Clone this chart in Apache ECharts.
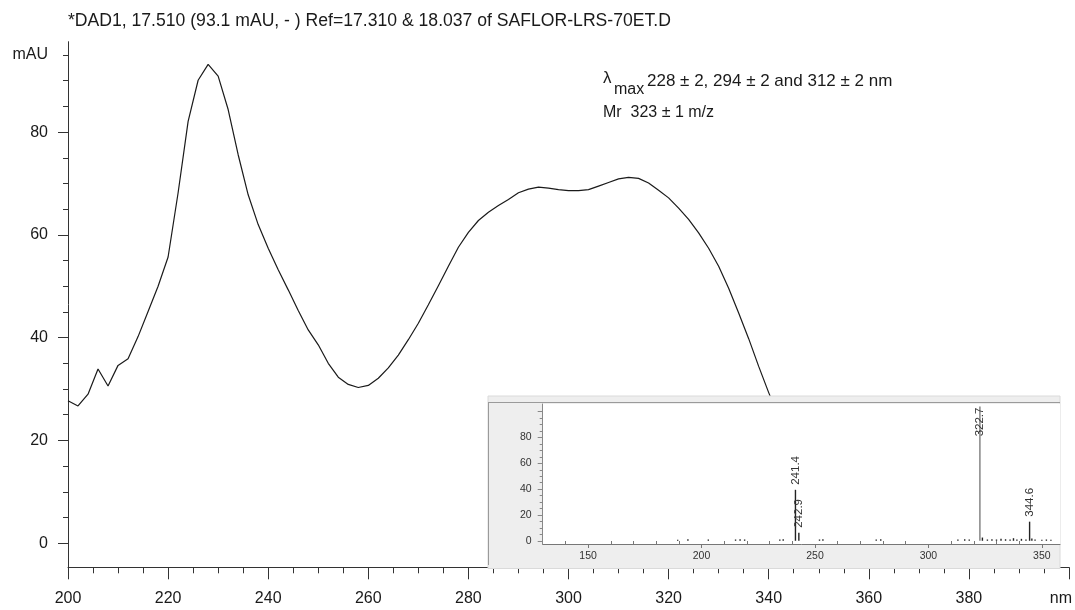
<!DOCTYPE html>
<html><head><meta charset="utf-8">
<script src="https://cdn.jsdelivr.net/npm/echarts@6/dist/echarts.min.js"></script>
<style>html,body{margin:0;padding:0;background:#fff}#c{width:1075px;height:610px}</style>
</head><body><div id="c"></div>
<script>
// ---- UV spectrum (main plot) ----
const wavelengths = [200,202,204,206,208,210,212,214,216,218,220,222,224,226,228,230,232,234,236,238,240,242,244,246,248,250,252,254,256,258,260,262,264,266,268,270,272,274,276,278,280,282,284,286,288,290,292,294,296,298,300,302,304,306,308,310,312,314,316,318,320,322,324,326,328,330,332,334,336,338,340,342];
const absorbance = [27.7,26.7,29.0,33.9,30.6,34.6,35.9,40.2,45.1,50.0,55.7,68.2,82.1,90.1,93.2,90.9,84.4,75.6,67.8,62.0,57.4,53.2,49.3,45.3,41.5,38.6,35.0,32.3,30.9,30.3,30.7,32.1,34.1,36.6,39.6,42.8,46.4,50.1,53.9,57.6,60.5,62.8,64.4,65.7,66.9,68.2,68.9,69.3,69.1,68.8,68.6,68.6,68.8,69.5,70.2,70.9,71.2,71.0,70.1,68.7,67.2,65.2,63.0,60.4,57.4,53.9,49.6,44.8,39.8,34.4,29.3,24.5];
const yTickValues = [0,20,40,60,80];
const yUnitValue = 95;
const yUnitLabel = 'mAU';
const yMinorTickValues = [5,10,15,25,30,35,45,50,55,65,70,75,85,90,95];
const xUnitLabel = 'nm';
const titleText = '*DAD1, 17.510 (93.1 mAU, - ) Ref=17.310 & 18.037 of SAFLOR-LRS-70ET.D';
const noteLambda = 'λ';
const noteLambdaSub = 'max';
const noteLambdaText = '228 ± 2, 294 ± 2 and 312 ± 2 nm';
const noteMr = 'Mr  323 ± 1 m/z';

// ---- Mass spectrum (inset) ----
const msMz = [189.5,194,203,215,217,219,234.5,236,241.4,242.9,252,253.5,277,279,313,316,318,322.7,323.8,326,328,330,332,334,336,337.5,339,341,343,344.6,345.6,347,350,352,354];
const msAbund = [0.8,1.2,1.0,1.0,1.2,1.0,1.0,1.2,39.5,6.2,1.0,1.2,1.0,1.2,1.0,1.2,1.0,104,2.5,1.0,1.2,1.0,1.5,1.2,1.0,2.0,1.0,1.5,1.0,14.8,1.8,1.0,0.8,1.0,0.8];
const msLabeled = [241.4,242.9,322.7,344.6];
const msGreyPeaks = [322.7];
const msXTickValues = [150,200,250,300,350];
const msXMinorTickValues = [140,160,170,180,190,210,220,230,240,260,270,280,290,310,320,330,340];
const msYTickLabels = [0,20,40,60,80];
const msYTickValues = [0,20,40,60,80,100];
const msYMinorTickValues = [5,10,15,25,30,35,45,50,55,65,70,75,85,90,95];

const FF = "'Liberation Sans', Arial, sans-serif";
const INK = '#1a1a1a';

const chart = echarts.init(document.getElementById('c'), null, {renderer: 'canvas'});

const mainData = wavelengths.map((w, i) => [w, absorbance[i]]);
const msData = msMz.map((m, i) => {
  const item = { value: [m, msAbund[i]] };
  if (msGreyPeaks.includes(m)) item.itemStyle = { color: '#7c7c7c' };
  if (msLabeled.includes(m)) {
    if (msGreyPeaks.includes(m)) {
      item.label = { show: true, position: 'insideTop', distance: 1, rotate: 90, align: 'right', verticalAlign: 'middle', formatter: String(m) };
    } else {
      item.label = { show: true, position: 'top', distance: 5, rotate: 90, align: 'left', verticalAlign: 'middle', formatter: String(m) };
    }
  }
  return item;
});

const option = {
  animation: false,
  backgroundColor: '#ffffff',
  textStyle: { fontFamily: FF },
  title: {
    text: titleText, left: 68, top: 12, padding: 0,
    textStyle: { fontSize: 17.6, fontWeight: 'normal', color: INK, fontFamily: FF }
  },
  grid: [
    { left: 68, right: 4, top: 41.7, bottom: 42.7, containLabel: false },
    { left: 542.7, right: 15, top: 404, bottom: 66, show: true, backgroundColor: '#ffffff', borderWidth: 0, z: 4 }
  ],
  xAxis: [
    {
      type: 'value', gridIndex: 0, min: 200, max: 400, interval: 20, position: 'bottom',
      axisLine: { onZero: false, lineStyle: { color: '#333', width: 1 } },
      axisTick: { length: 12, lineStyle: { color: '#333' } },
      minorTick: { show: true, splitNumber: 4, length: 6, lineStyle: { color: '#333' } },
      axisLabel: { fontSize: 16, color: INK, margin: 23, fontFamily: FF,
        formatter: v => (v === 400 ? '' : String(v)) },
      splitLine: { show: false },
      name: xUnitLabel, nameLocation: 'end', nameGap: 3,
      nameTextStyle: { fontSize: 16, color: INK, align: 'right', verticalAlign: 'top', padding: [23, 0, 0, 0], fontFamily: FF }
    },
    {
      type: 'value', gridIndex: 1, min: 130, max: 358, position: 'bottom', z: 5,
      axisLine: { onZero: false, lineStyle: { color: '#777', width: 1 } },
      axisTick: { customValues: msXTickValues, length: 4, lineStyle: { color: '#777' } },
      axisLabel: { customValues: msXTickValues, fontSize: 10.5, color: '#333', margin: 7, fontFamily: FF },
      splitLine: { show: false }
    },
    {
      type: 'value', gridIndex: 1, min: 130, max: 358, position: 'bottom', z: 5,
      axisLine: { show: false, onZero: false },
      axisTick: { customValues: msXMinorTickValues, inside: true, length: 3, lineStyle: { color: '#777' } },
      axisLabel: { show: false },
      splitLine: { show: false }
    }
  ],
  yAxis: [
    {
      type: 'value', gridIndex: 0, min: -4.7, max: 97.6, position: 'left',
      axisLine: { show: true, onZero: false, lineStyle: { color: '#333', width: 1 } },
      axisTick: { show: true, customValues: yTickValues, length: 10, lineStyle: { color: '#333' } },
      axisLabel: { customValues: yTickValues.concat([yUnitValue]), fontSize: 16, color: INK, margin: 20, fontFamily: FF,
        formatter: v => (v === yUnitValue ? yUnitLabel : String(v)) },
      splitLine: { show: false }
    },
    {
      type: 'value', gridIndex: 0, min: -4.7, max: 97.6, position: 'left',
      axisLine: { show: false, onZero: false },
      axisTick: { show: true, customValues: yMinorTickValues, length: 5, lineStyle: { color: '#333' } },
      axisLabel: { show: false },
      splitLine: { show: false }
    },
    {
      type: 'value', gridIndex: 1, min: -2.5, max: 106, position: 'left', z: 5,
      axisLine: { show: true, onZero: false, lineStyle: { color: '#888', width: 1 } },
      axisTick: { show: true, customValues: msYTickValues, length: 5, lineStyle: { color: '#888' } },
      axisLabel: { customValues: msYTickLabels, fontSize: 10.5, color: '#333', margin: 11, fontFamily: FF },
      splitLine: { show: false }
    },
    {
      type: 'value', gridIndex: 1, min: -2.5, max: 106, position: 'left', z: 5,
      axisLine: { show: false, onZero: false },
      axisTick: { show: true, customValues: msYMinorTickValues, length: 3, lineStyle: { color: '#888' } },
      axisLabel: { show: false },
      splitLine: { show: false }
    }
  ],
  graphic: [
    { type: 'rect', z: 3, silent: true, shape: { x: 488, y: 396, width: 572, height: 172.5 }, style: { fill: '#eeeeee', stroke: '#dadada', lineWidth: 1 } },
    { type: 'line', z: 3, silent: true, shape: { x1: 488, y1: 402.5, x2: 1060, y2: 402.5 }, style: { stroke: '#9a9a9a', lineWidth: 1 } },
    { type: 'line', z: 3, silent: true, shape: { x1: 488.5, y1: 402.5, x2: 488.5, y2: 565 }, style: { stroke: '#9a9a9a', lineWidth: 1 } },
    { type: 'text', z: 10, x: 603, y: 78, style: { text: noteLambda, fill: INK, fontSize: 17, fontFamily: FF, verticalAlign: 'middle' } },
    { type: 'text', z: 10, x: 614, y: 90, style: { text: noteLambdaSub, fill: INK, fontSize: 16, fontFamily: FF, verticalAlign: 'middle' } },
    { type: 'text', z: 10, x: 647, y: 81, style: { text: noteLambdaText, fill: INK, fontSize: 17, fontFamily: FF, verticalAlign: 'middle' } },
    { type: 'text', z: 10, x: 603, y: 113, style: { text: noteMr, fill: INK, fontSize: 16, fontFamily: FF, verticalAlign: 'middle' } }
  ],
  series: [
    {
      type: 'line', xAxisIndex: 0, yAxisIndex: 0, data: mainData, z: 2,
      symbol: 'none', smooth: false,
      lineStyle: { color: INK, width: 1.2 }
    },
    {
      type: 'bar', xAxisIndex: 1, yAxisIndex: 2, data: msData, z: 6,
      barWidth: 1.4,
      itemStyle: { color: '#222' },
      label: { show: false, fontSize: 11.5, color: '#333', fontFamily: FF }
    }
  ]
};
chart.setOption(option);
</script>
</body></html>
